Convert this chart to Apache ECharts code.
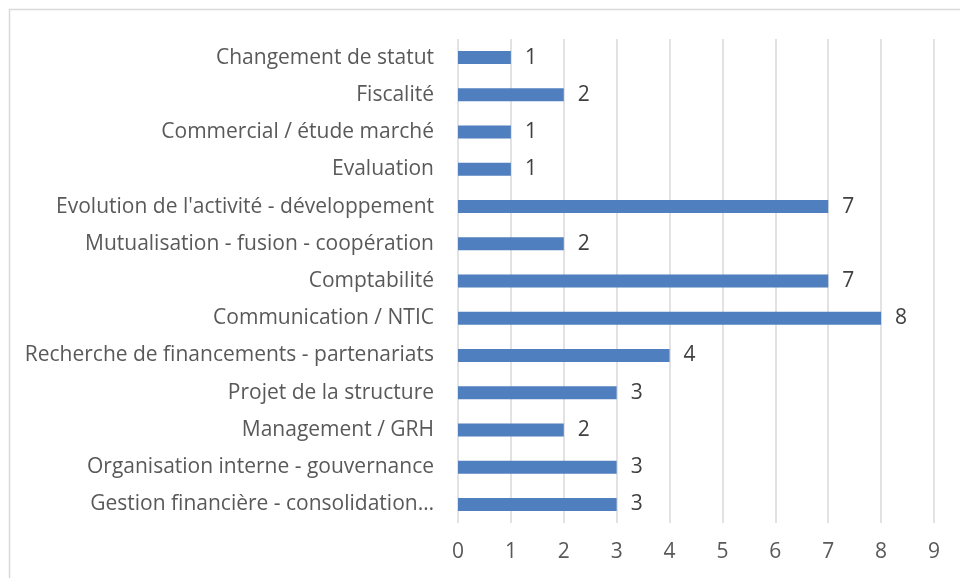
<!DOCTYPE html>
<html>
<head>
	<meta charset="utf-8"/>
	<title>Thèmes</title>
	<style type="text/css">
		html,body{ margin:0; padding:0; background:#fff; }
		#chart{ width:960px; height:578px; }
	</style>
</head>
<body>
	<div id="chart"></div>
	<script src="https://cdn.jsdelivr.net/npm/echarts@6/dist/echarts.min.js"></script>
	<script type="text/javascript">
		// categories, bottom to top as on the axis
		var categories = [
			'Gestion financière - consolidation…',
			'Organisation interne - gouvernance',
			'Management / GRH',
			'Projet de la structure',
			'Recherche de financements - partenariats',
			'Communication / NTIC',
			'Comptabilité',
			'Mutualisation - fusion - coopération',
			"Evolution de l'activité - développement",
			'Evaluation',
			'Commercial / étude marché',
			'Fiscalité',
			'Changement de statut'
		];
		var values = [3, 3, 2, 3, 4, 8, 7, 2, 7, 1, 1, 2, 1];
		var xTicks = [0, 1, 2, 3, 4, 5, 6, 7, 8, 9];

		var font = 'Open Sans';
		var chart = echarts.init(document.getElementById('chart'));

		chart.setOption({
			animation: false,
			textStyle: { fontFamily: font },
			graphic: [{
				type: 'rect',
				shape: { x: 9.5, y: 9.5, width: 1000, height: 1000 },
				style: { fill: 'none', stroke: '#d9d9d9', lineWidth: 1.5 },
				silent: true
			}],
			grid: { left: 458, right: 26, top: 39, bottom: 55 },
			xAxis: {
				type: 'value',
				min: xTicks[0],
				max: xTicks[xTicks.length - 1],
				interval: 1,
				axisLine: { show: false },
				axisTick: { show: false },
				splitLine: { lineStyle: { color: '#d9d9d9', width: 1.5 } },
				axisLabel: { color: '#595959', fontSize: 21, fontFamily: font, margin: 19 }
			},
			yAxis: {
				type: 'category',
				data: categories,
				axisLine: { show: false },
				axisTick: { show: false },
				axisLabel: { color: '#595959', fontSize: 21, fontFamily: font, margin: 24 }
			},
			series: [{
				type: 'bar',
				data: values,
				barWidth: 13,
				itemStyle: { color: '#4f7fbe' },
				label: {
					show: true,
					position: 'right',
					distance: 14,
					color: '#404040',
					fontSize: 21,
					fontFamily: font
				}
			}]
		});
	</script>
</body>
</html>
